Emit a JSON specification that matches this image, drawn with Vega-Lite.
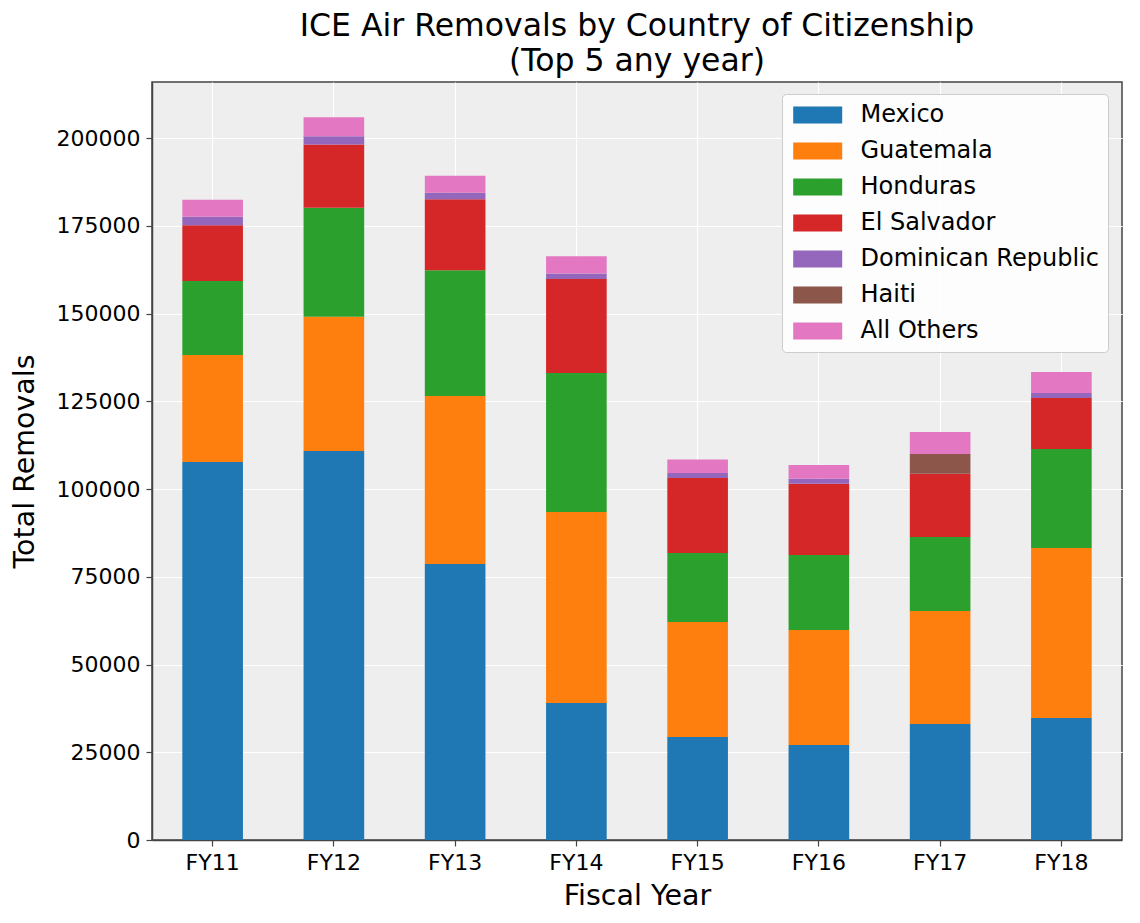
{
  "$schema": "https://vega.github.io/schema/vega-lite/v6.json",
  "width": 970,
  "height": 758,
  "autosize": {"type": "none"},
  "padding": {"left": 152, "top": 82, "right": 18, "bottom": 83},
  "background": "white",
  "title": {
    "text": ["ICE Air Removals by Country of Citizenship", "(Top 5 any year)"],
    "font": "DejaVu Sans",
    "fontSize": 31.5,
    "fontWeight": "normal",
    "color": "black",
    "lineHeight": 35,
    "anchor": "middle",
    "offset": 5
  },
  "config": {
    "font": "DejaVu Sans",
    "view": {"fill": "#EEEEEE", "stroke": "#444444", "strokeWidth": 1.5},
    "axis": {
      "labelFont": "DejaVu Sans",
      "titleFont": "DejaVu Sans",
      "labelFontSize": 22,
      "titleFontSize": 28.5,
      "titleFontWeight": "normal",
      "labelColor": "black",
      "titleColor": "black",
      "gridColor": "white",
      "gridWidth": 1.2,
      "gridOpacity": 1,
      "domainColor": "#444444",
      "domainWidth": 1.5,
      "tickColor": "#444444",
      "tickSize": 6,
      "tickWidth": 1.2
    }
  },
  "data": {
    "values": [
      {"year": "FY11", "country": "Mexico", "removals": 107700},
      {"year": "FY11", "country": "Guatemala", "removals": 30480},
      {"year": "FY11", "country": "Honduras", "removals": 21080},
      {"year": "FY11", "country": "El Salvador", "removals": 15950},
      {"year": "FY11", "country": "Dominican Republic", "removals": 2370},
      {"year": "FY11", "country": "All Others", "removals": 4840},
      {"year": "FY12", "country": "Mexico", "removals": 110830},
      {"year": "FY12", "country": "Guatemala", "removals": 38260},
      {"year": "FY12", "country": "Honduras", "removals": 31050},
      {"year": "FY12", "country": "El Salvador", "removals": 18060},
      {"year": "FY12", "country": "Dominican Republic", "removals": 2370},
      {"year": "FY12", "country": "All Others", "removals": 5410},
      {"year": "FY13", "country": "Mexico", "removals": 78630},
      {"year": "FY13", "country": "Guatemala", "removals": 47870},
      {"year": "FY13", "country": "Honduras", "removals": 35890},
      {"year": "FY13", "country": "El Salvador", "removals": 20230},
      {"year": "FY13", "country": "Dominican Republic", "removals": 1800},
      {"year": "FY13", "country": "All Others", "removals": 4840},
      {"year": "FY14", "country": "Mexico", "removals": 39030},
      {"year": "FY14", "country": "Guatemala", "removals": 54420},
      {"year": "FY14", "country": "Honduras", "removals": 39600},
      {"year": "FY14", "country": "El Salvador", "removals": 26780},
      {"year": "FY14", "country": "Dominican Republic", "removals": 1620},
      {"year": "FY14", "country": "All Others", "removals": 4930},
      {"year": "FY15", "country": "Mexico", "removals": 29350},
      {"year": "FY15", "country": "Guatemala", "removals": 32760},
      {"year": "FY15", "country": "Honduras", "removals": 19660},
      {"year": "FY15", "country": "El Salvador", "removals": 21360},
      {"year": "FY15", "country": "Dominican Republic", "removals": 1430},
      {"year": "FY15", "country": "All Others", "removals": 3900},
      {"year": "FY16", "country": "Mexico", "removals": 27070},
      {"year": "FY16", "country": "Guatemala", "removals": 32760},
      {"year": "FY16", "country": "Honduras", "removals": 21370},
      {"year": "FY16", "country": "El Salvador", "removals": 20310},
      {"year": "FY16", "country": "Dominican Republic", "removals": 1430},
      {"year": "FY16", "country": "All Others", "removals": 3900},
      {"year": "FY17", "country": "Mexico", "removals": 33050},
      {"year": "FY17", "country": "Guatemala", "removals": 32190},
      {"year": "FY17", "country": "Honduras", "removals": 21080},
      {"year": "FY17", "country": "El Salvador", "removals": 18050},
      {"year": "FY17", "country": "Haiti", "removals": 5600},
      {"year": "FY17", "country": "All Others", "removals": 6270},
      {"year": "FY18", "country": "Mexico", "removals": 34760},
      {"year": "FY18", "country": "Guatemala", "removals": 48430},
      {"year": "FY18", "country": "Honduras", "removals": 28210},
      {"year": "FY18", "country": "El Salvador", "removals": 14530},
      {"year": "FY18", "country": "Dominican Republic", "removals": 1420},
      {"year": "FY18", "country": "All Others", "removals": 5980}
    ]
  },
  "transform": [
    {"calculate": "indexof(['Mexico', 'Guatemala', 'Honduras', 'El Salvador', 'Dominican Republic', 'Haiti', 'All Others'], datum.country)", "as": "stack_rank"}
  ],
  "mark": {"type": "bar"},
  "encoding": {
    "x": {
      "field": "year",
      "type": "nominal",
      "title": "Fiscal Year",
      "scale": {"paddingInner": 0.5, "paddingOuter": 0.25},
      "axis": {"labelAngle": 0, "labelPadding": 6, "titlePadding": 8, "grid": true}
    },
    "y": {
      "field": "removals",
      "type": "quantitative",
      "stack": "zero",
      "title": "Total Removals",
      "scale": {"domain": [0, 216000], "nice": false},
      "axis": {"values": [0, 25000, 50000, 75000, 100000, 125000, 150000, 175000, 200000], "format": "d", "labelPadding": 6, "titlePadding": 17}
    },
    "color": {
      "field": "country",
      "type": "nominal",
      "scale": {
        "domain": ["Mexico", "Guatemala", "Honduras", "El Salvador", "Dominican Republic", "Haiti", "All Others"],
        "range": ["#1f77b4", "#ff7f0e", "#2ca02c", "#d62728", "#9467bd", "#8c564b", "#e377c2"]
      },
      "legend": {
        "title": null,
        "orient": "none",
        "legendX": 630,
        "legendY": 12,
        "padding": 9,
        "fillColor": "rgba(255,255,255,0.85)",
        "strokeColor": "#CCCCCC",
        "cornerRadius": 4,
        "labelFont": "DejaVu Sans",
        "labelFontSize": 24,
        "labelColor": "black",
        "labelOffset": 45.5,
        "labelLimit": 400,
        "rowPadding": 12,
        "symbolType": "M-1,-0.87H4V0.87H-1Z",
        "symbolSize": 384,
        "symbolStrokeWidth": 0,
        "symbolOpacity": 1
      }
    },
    "order": {"field": "stack_rank", "type": "quantitative", "sort": "ascending"}
  }
}
